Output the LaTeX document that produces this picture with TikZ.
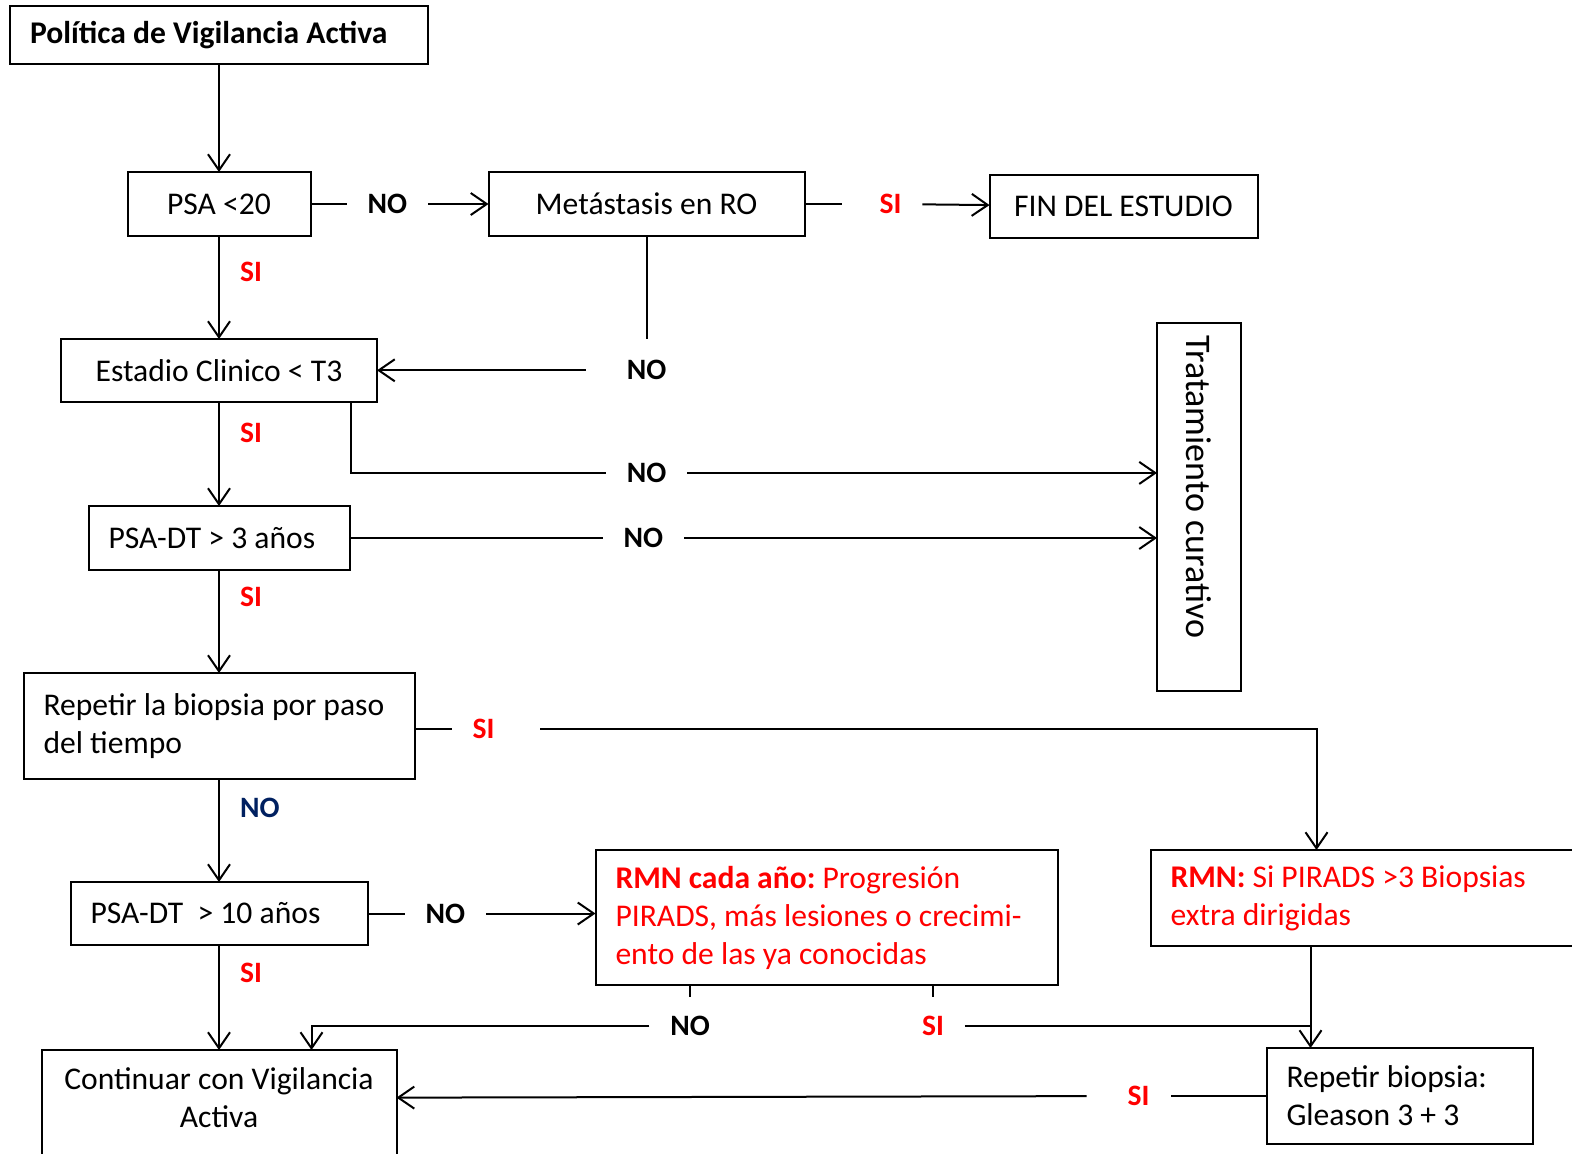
\documentclass[tikz,border=0pt]{standalone}
\usepackage{fontspec}
\setmainfont{Carlito}
\usepackage{tikz}
\usetikzlibrary{positioning,arrows.meta}
\tikzset{>={Straight Barb[length=8pt,width=11pt]}}
\definecolor{sired}{RGB}{255,0,0}
\definecolor{nonavy}{RGB}{0,32,96}
\def\boxfont{\fontsize{15.8}{19}\selectfont}
\def\lblfont{\fontsize{14.8}{17}\selectfont\bfseries}
\frenchspacing
\tikzset{
  box/.style={draw=black, line width=1pt, inner sep=0pt, outer sep=0pt, font=\boxfont, align=flush center},
  leftbox/.style={box, align=flush left, inner xsep=10pt},
  lblno/.style={font=\lblfont, inner xsep=10pt, inner ysep=4pt},
  lblsi/.style={lblno, text=sired},
}

\begin{document}
\begin{tikzpicture}[line width=1pt]
          \useasboundingbox (0,0) rectangle (786pt,-576.5pt);

          \node[leftbox, font=\boxfont\bfseries, text width=189pt, minimum height=29pt] (politica) at (109.5pt,-17.5pt) {Política de Vigilancia Activa};
          \node[box, minimum width=91.5pt, minimum height=32pt, below=54pt of politica] (psa20) {PSA <20};
          \node[box, minimum width=158pt, minimum height=32pt, right=89pt of psa20] (meta) {Metástasis en RO};
          \node[box, minimum width=134pt, minimum height=31.5pt, right=92.5pt of meta, yshift=-1.25pt] (fin) {FIN DEL ESTUDIO};
          \node[box, minimum width=158pt, minimum height=31.5pt, below=51.5pt of psa20] (estadio) {Estadio Clinico < T3};
          \node[leftbox, text width=110.5pt, minimum height=32pt, below=52pt of estadio] (psadt3) {PSA-DT > 3 años};
          \node[leftbox, text width=175.5pt, minimum height=53pt, below=51.5pt of psadt3] (repetir) {Repetir la biopsia por paso\\del tiempo};
          \node[leftbox, text width=128.5pt, minimum height=31.5pt, below=51.5pt of repetir] (psadt10) {PSA-DT~ > 10 años};
          \node[box, draw=none, minimum width=177.5pt, minimum height=48pt, below=52.5pt of psadt10] (cont) {Continuar con Vigilancia\\Activa};
          \node[leftbox, text=sired, text width=211pt, minimum height=67.5pt, right=114pt of psadt10, yshift=-2pt] (rmncada) {\textbf{RMN cada año:} Progresión\\PIRADS, más lesiones o crecimi-\\ento de las ya conocidas};
          \node[leftbox, text=sired, text width=206pt, minimum height=48pt, right=46.5pt of rmncada.north east, anchor=north west] (rmn) {\textbf{RMN:} Si PIRADS >3 Biopsias\\extra dirigidas};
          \node[leftbox, text width=113pt, minimum height=48pt, below=51pt of rmn, xshift=11.5pt] (repbiop) {Repetir biopsia:\\Gleason 3 + 3};
          \node[box, rotate=-90, align=flush left, text width=172pt, inner xsep=6pt, minimum height=42pt, font=\fontsize{18}{21}\selectfont] (trat) at (599.5pt,-253.5pt) {Tratamiento curativo};

          \node[lblno, right=18pt of psa20] (no1) {NO};
          \node[lblsi, right=27pt of meta] (si1) {SI};
          \node[lblno, below=57.75pt of meta] (no2) {NO};
          \node[lblno, below=32.5pt of no2] (no3) {NO};
          \node[lblno, right=126.5pt of psadt3] (no4) {NO};
          \node[lblsi, right=18.5pt of repetir, yshift=-1.5pt] (si5) {SI};
          \node[lblno, right=18.5pt of psadt10] (no6) {NO};
          \node[lblno, below=11pt of rmncada, xshift=-68.25pt] (no7) {NO};
          \node[lblsi, below=11pt of rmncada, xshift=53.25pt] (si7) {SI};
          \node[lblsi, left=48pt of repbiop] (si8) {SI};

          \coordinate (rmnin) at ([xshift=83pt]rmn.north west);
          \coordinate (rmnout) at ([xshift=80pt]rmn.south west);
          \coordinate (contin) at ([xshift=135pt]cont.north west);
          \coordinate (estout) at ([xshift=-13pt]estadio.south east);

          \path[draw=black,->] (politica) edge (psa20);
          \path[draw=black,->] (psa20) edge node[lblsi, right, pos=0.35] (si2) {SI} (estadio);
          \path[draw=black,->] (estadio) edge node[lblsi, right, pos=0.3] (si3) {SI} (psadt3);
          \path[draw=black,->] (psadt3) edge node[lblsi, right, pos=0.26] (si4) {SI} (repetir);
          \path[draw=black,->] (repetir) edge node[lblno, right, pos=0.28, text=nonavy] (no5) {NO} (psadt10);
          \path[draw=black,->] (psadt10) edge node[lblsi, right, pos=0.27] (si6) {SI} (cont);

          \path[draw=black] (psa20) edge (no1);
          \path[draw=black,->] (no1) edge (meta);
          \path[draw=black] (meta) edge[shorten >=8.5pt] (si1);
          \path[draw=black,->] (si1) edge (fin);
          \path[draw=black] (meta) edge[shorten >=6.5pt] (no2);
          \path[draw=black,->] (no2) edge[shorten <=10pt] (no2 -| estadio.east);
          \draw (estout) |- (no3);
          \path[draw=black,->] (no3) edge (no3 -| trat.south);
          \path[draw=black] (psadt3) edge (no4);
          \path[draw=black,->] (no4) edge (no4 -| trat.south);

          \draw (repetir.east |- si5) -- (si5);
          \draw[->, shorten <=12.5pt] (si5) -| (rmnin);
          \path[draw=black] (psadt10) edge (no6);
          \path[draw=black,->] (no6) edge (no6 -| rmncada.west);
          \path[draw=black] (rmncada.south -| no7) edge[shorten >=5pt] (no7);
          \draw[->] (no7) -| (contin);
          \path[draw=black] (rmncada.south -| si7) edge[shorten >=5pt] (si7);
          \path[draw=black] (si7) edge (si7 -| rmnout);
          \draw[->] (rmnout) -- (rmnout |- repbiop.north);
          \path[draw=black] (repbiop) edge (si8);
          \path[draw=black,->] (si8) edge[shorten <=10pt] (cont);

          \draw ([yshift=-20pt]cont.south west) |- (cont.north) -| ([yshift=-20pt]cont.south east);
        \end{tikzpicture}
\end{document}
